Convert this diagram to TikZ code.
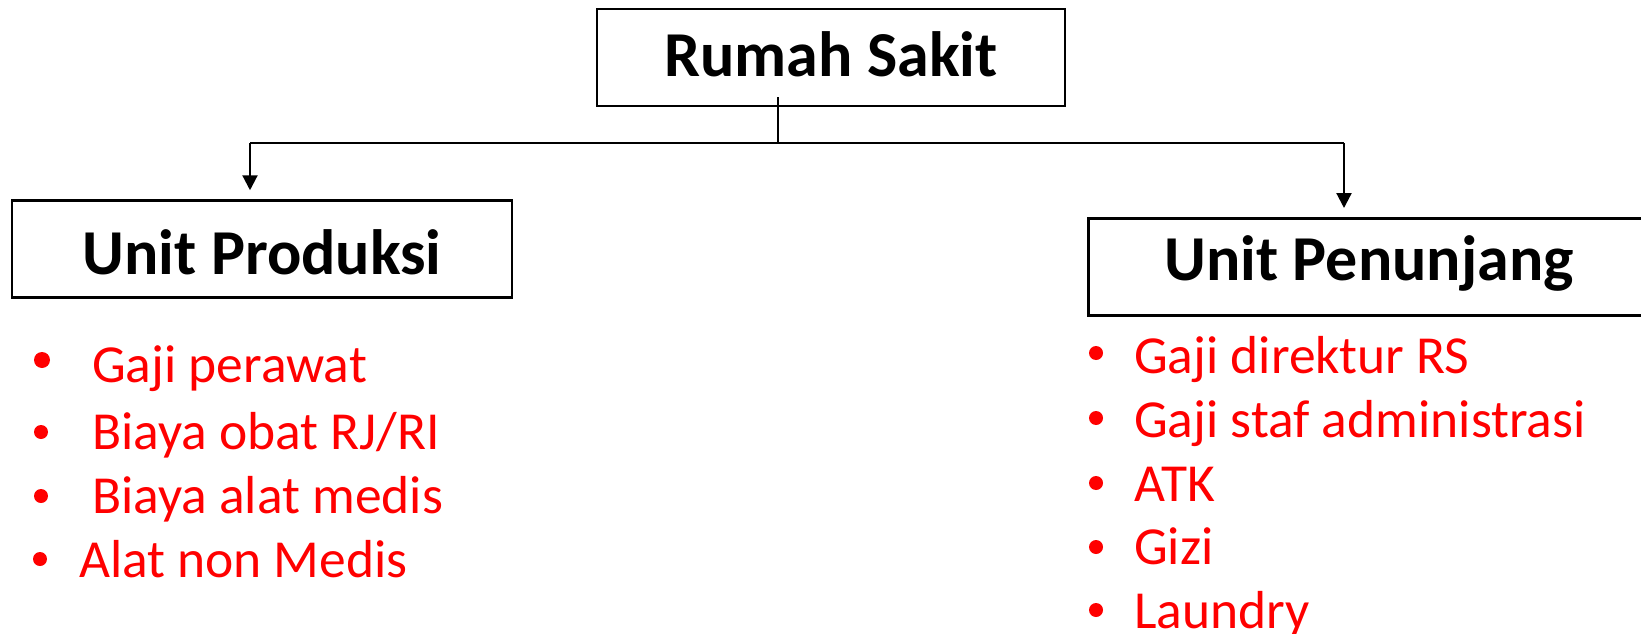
\documentclass[tikz,border=0pt]{standalone}
\usepackage{fontspec}
\setmainfont{Carlito}
\usetikzlibrary{arrows.meta}
\tikzset{
  unitbox/.style={draw=black, line width=2.5pt, minimum height=97pt, inner sep=0pt},
  boxlabel/.style={font=\bfseries\fontsize{64}{70}\selectfont, inner sep=0pt, anchor=base},
  branch/.style={line width=2.2pt, draw=black},
  arr/.style={branch, -{Triangle[length=15pt, width=15pt]}, shorten >=9pt},
  item/.style={text=red, font=\fontsize{53.5}{60}\selectfont, inner sep=0pt, anchor=base west},
  dot/.style={circle, fill=red, inner sep=0pt, minimum size=14pt},
}
\begin{document}
\begin{tikzpicture}[x=1pt, y=-1pt]
\useasboundingbox (0,0) rectangle (1641,634);
\clip (0,0) rectangle (1641,634);

% boxes
\node[unitbox, minimum width=468pt] (rs) at (831,57.5) {};
\node[unitbox, minimum width=500pt] (prod) at (262,249) {};
\node[unitbox, minimum width=600pt, anchor=north west] (pen) at (1087,217) {};

% box titles
\node[boxlabel] (rstext) at (831,77) {Rumah Sakit};
\node[boxlabel] (prodtext) at (262,274) {Unit Produksi};
\node[boxlabel, anchor=base west] (pentext) at (1164,280) {Unit Penunjang};

% connectors
\coordinate (stemtop) at (778,97);
\coordinate (fork) at (778,143);
\coordinate (forkL) at (250,143);
\coordinate (forkR) at (1344,143);
\draw[branch] (stemtop) -- (fork);
\draw[branch] (forkL) -- (forkR);
\draw[arr] (forkL) -- (forkL |- prod.north);
\draw[arr] (forkR) -- (forkR |- pen.north);

% left list
\node[dot, minimum size=16pt] (b1) at (42,360) {};
\node[dot] (b2) at (41,432) {};
\node[dot] (b3) at (41,496) {};
\node[dot] (b4) at (40,559) {};
\node[item] (l1) at (92,382) {Gaji perawat};
\node[item] (l2) at (92,449) {Biaya obat RJ/RI};
\node[item] (l3) at (92,513) {Biaya alat medis};
\node[item] (l4) at (79,577) {Alat non Medis};

% right list
\node[dot] (c1) at (1096,353) {};
\node[dot] (c2) at (1096,418) {};
\node[dot] (c3) at (1096,483) {};
\node[dot] (c4) at (1096,547) {};
\node[dot] (c5) at (1096,610) {};
\node[item] (r1) at (1134,373) {Gaji direktur RS};
\node[item] (r2) at (1134,437) {Gaji staf administrasi};
\node[item] (r3) at (1134,501) {ATK};
\node[item] (r4) at (1134,564) {Gizi};
\node[item] (r5) at (1134,628) {Laundry};
\end{tikzpicture}
\end{document}
